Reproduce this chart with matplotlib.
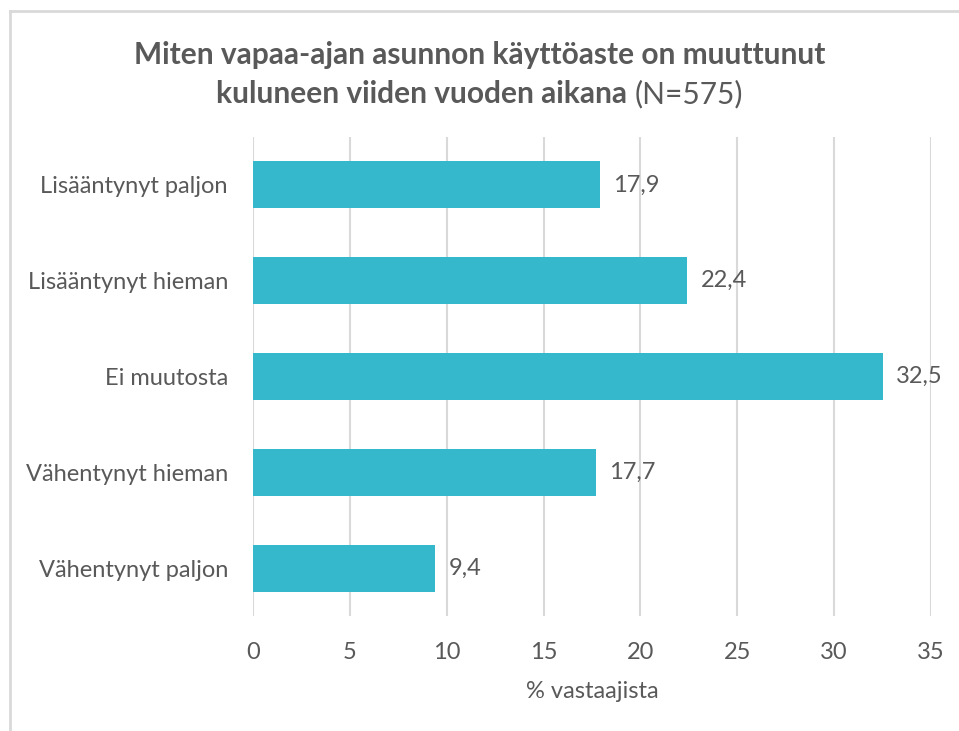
import matplotlib.pyplot as plt
from matplotlib.lines import Line2D

categories = ['Lisääntynyt paljon', 'Lisääntynyt hieman', 'Ei muutosta',
              'Vähentynyt hieman', 'Vähentynyt paljon']
values = [17.9, 22.4, 32.5, 17.7, 9.4]
xticks = [0, 5, 10, 15, 20, 25, 30, 35]

bar_color = '#36B8CC'
text_color = '#595959'
grid_color = '#D9D9D9'

plt.rcParams['font.family'] = ['Lato', 'DejaVu Sans']

fig = plt.figure(figsize=(9.59, 7.31), dpi=100)
ax = fig.add_axes([0.2638, 0.1573, 0.9708 - 0.2638, 0.8126 - 0.1573])

ypos = list(range(len(categories)))
ax.barh(ypos, values, height=0.49, color=bar_color, zorder=3)
ax.set_ylim(len(categories) - 0.5, -0.5)
ax.set_xlim(0, 35)
ax.set_xticks(xticks)
ax.set_xticklabels([str(t) for t in xticks])
ax.set_yticks(ypos)
ax.set_yticklabels(categories)

for y, v in zip(ypos, values):
    ax.text(v + 0.7, y, f'{v:.1f}'.replace('.', ','), va='center', ha='left',
            fontsize=17, color=text_color)

ax.grid(axis='x', color=grid_color, linewidth=1.5, zorder=0)
for s in ax.spines.values():
    s.set_visible(False)
ax.tick_params(axis='both', length=0, labelsize=17, colors=text_color)
ax.tick_params(axis='x', pad=19)
ax.tick_params(axis='y', pad=18)
ax.set_xlabel('% vastaajista', fontsize=17, color=text_color, labelpad=13)

# title: two lines, last part in normal weight
fig.text(0.5, 1 - 55 / 731, 'Miten vapaa-ajan asunnon käyttöaste on muuttunut',
         ha='center', va='center', fontsize=21.5, fontweight='bold', color=text_color)
y2 = 1 - 94 / 731
t1 = fig.text(0, y2, 'kuluneen viiden vuoden aikana ', ha='left', va='center',
              fontsize=21.5, fontweight='bold', color=text_color)
t2 = fig.text(0, y2, '(N=575)', ha='left', va='center',
              fontsize=21.5, color=text_color)
r = fig.canvas.get_renderer()
w1 = t1.get_window_extent(r).width / fig.bbox.width
w2 = t2.get_window_extent(r).width / fig.bbox.width
x0 = 0.5 - (w1 + w2) / 2
t1.set_x(x0)
t2.set_x(x0 + w1)

# light chart border (left and top)
fig.add_artist(Line2D([10 / 959, 10 / 959], [0, 1 - 11 / 731],
                      transform=fig.transFigure, color='#D9D9D9', linewidth=2))
fig.add_artist(Line2D([10 / 959, 1], [1 - 11 / 731, 1 - 11 / 731],
                      transform=fig.transFigure, color='#D9D9D9', linewidth=2))

fig.savefig('out.png', dpi=100)
